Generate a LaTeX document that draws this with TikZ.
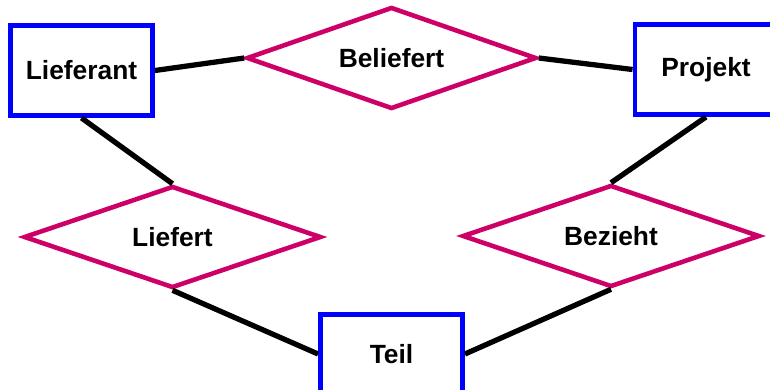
\documentclass[tikz,border=0pt]{standalone}
\usepackage{fontspec}
\setmainfont{Liberation Sans}
\usetikzlibrary{shapes.geometric}
\definecolor{entblue}{HTML}{0000FF}
\definecolor{relpink}{HTML}{CC0066}
\begin{document}
\begin{tikzpicture}[x=0.02cm, y=-0.02cm,
		entity/.style={rectangle, draw=entblue, line width=2.8pt, minimum width=2.84cm, minimum height=1.8cm, font=\fontsize{15}{18}\selectfont\bfseries},
		relation/.style={diamond, draw=relpink, line width=2.6pt, aspect=3, inner sep=0pt, minimum width=5.95cm, minimum height=2.04cm, font=\fontsize{15}{18}\selectfont\bfseries},
		link/.style={line width=3pt}]
			\useasboundingbox (0,0) rectangle (770,389);
			\clip (0,0) rectangle (770,389);
			\node[entity] (lieferant) at (81.5,70.5) {Lieferant};
			\node[entity] (projekt) at (706,69.5) {Projekt};
			\node[entity, minimum height=1.58cm] (teil) at (391.5,354) {Teil};
			\node[relation, minimum width=5.8cm] (beliefert) at (391.5,58) {Beliefert};
			\node[relation] (liefert) at (172.5,237) {Liefert};
			\node[relation] (bezieht) at (611,236) {Bezieht};
			\draw[link] (lieferant.east) -- (beliefert.west);
			\draw[link] (beliefert.east) -- (projekt.west);
			\draw[link] (lieferant.south) -- (liefert.north);
			\draw[link] (liefert.south) -- (teil.west);
			\draw[link] (projekt.south) -- (bezieht.north);
			\draw[link] (bezieht.south) -- (teil.east);
		\end{tikzpicture}
\end{document}
